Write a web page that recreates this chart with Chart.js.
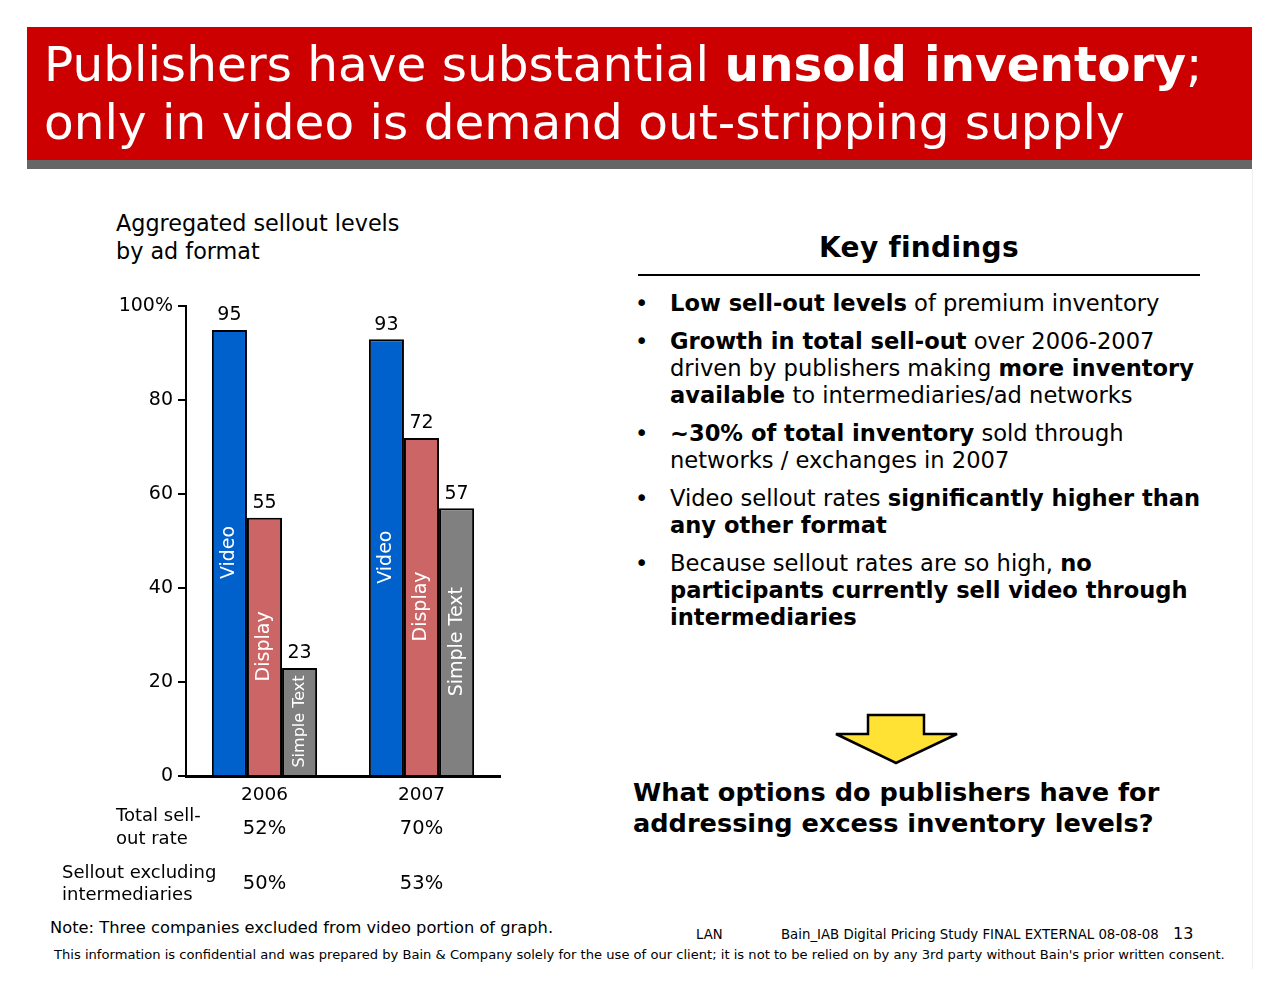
<!DOCTYPE html>
<html>
<head>
<meta charset="utf-8">
<script src="https://cdn.jsdelivr.net/npm/chart.js@4"></script>
<style>
  body { margin: 0; background: #fff; font-family: "DejaVu Sans", Verdana, sans-serif; }
  .page { position: relative; width: 1280px; height: 990px; overflow: hidden; }
  .titlebar { position: absolute; left: 27px; top: 27px; width: 1225px; height: 133px; background: #cc0000; }
  .titlebar .grey { position: absolute; left: 0; bottom: -9px; width: 100%; height: 9px; background: #666; }
  .title { position: absolute; left: 17px; top: 8px; color: #fff; font-size: 48.5px; line-height: 58px; white-space: nowrap; }
  .vline { position: absolute; left: 1252px; top: 169px; width: 1px; height: 800px; background: #eee; }
  .sub { position: absolute; left: 116px; top: 209px; font-size: 22.3px; line-height: 28px; }
  #wrap { position: absolute; left: 40px; top: 290px; width: 480px; height: 620px; }
  .kf { position: absolute; left: 638px; top: 231px; width: 562px; text-align: center; font-weight: bold; font-size: 28px; letter-spacing: 0.3px; }
  .kfline { position: absolute; left: 638px; top: 274px; width: 562px; height: 2px; background: #000; }
  ul { position: absolute; left: 632px; top: 290px; width: 600px; margin: 0; padding: 0; list-style: none; font-size: 22.6px; line-height: 27px; white-space: nowrap; }
  li { position: relative; padding-left: 38px; margin-bottom: 11px; }
  li:before { content: "\2022"; position: absolute; left: 3px; top: 0; }
  .q { position: absolute; left: 633px; top: 777px; font-weight: bold; font-size: 25.6px; line-height: 31px; white-space: nowrap; }
  .note { position: absolute; left: 50px; top: 918px; font-size: 16.3px; }
  .lan { position: absolute; left: 696px; top: 927px; font-size: 13.2px; }
  .doc { position: absolute; left: 781px; top: 927px; font-size: 13.3px; white-space: nowrap; }
  .pg { position: absolute; left: 1173px; top: 924px; font-size: 16px; }
  .conf { position: absolute; left: 54px; top: 947px; font-size: 13.1px; white-space: nowrap; }
  svg { position: absolute; left: 833px; top: 713px; }
</style>
</head>
<body>
<div class="page">
  <div class="titlebar"><div class="grey"></div>
    <div class="title">Publishers have substantial <b>unsold inventory</b>;<br>only in video is demand out-stripping supply</div>
  </div>
  <div class="vline"></div>
  <div class="sub">Aggregated sellout levels<br>by ad format</div>
  <div id="wrap"><canvas id="chart"></canvas></div>

  <div class="kf">Key findings</div>
  <div class="kfline"></div>
  <ul>
    <li><b>Low sell-out levels</b> of premium inventory</li>
    <li><b>Growth in total sell-out</b> over 2006-2007<br>driven by publishers making <b>more inventory</b><br><b>available</b> to intermediaries/ad networks</li>
    <li><b>~30% of total inventory</b> sold through<br>networks / exchanges in 2007</li>
    <li>Video sellout rates <b>significantly higher than</b><br><b>any other format</b></li>
    <li>Because sellout rates are so high, <b>no</b><br><b>participants currently sell video through</b><br><b>intermediaries</b></li>
  </ul>
  <svg width="128" height="54"><polygon points="35,2 91,2 91,21 124,21 63,50 3,21 35,21" fill="#ffe234" stroke="#000" stroke-width="2.5"/></svg>
  <div class="q">What options do publishers have for<br>addressing excess inventory levels?</div>

  <div class="note">Note: Three companies excluded from video portion of graph.</div>
  <div class="lan">LAN</div>
  <div class="doc">Bain_IAB Digital Pricing Study FINAL EXTERNAL 08-08-08</div>
  <div class="pg">13</div>
  <div class="conf">This information is confidential and was prepared by Bain &amp; Company solely for the use of our client; it is not to be relied on by any 3rd party without Bain's prior written consent.</div>
</div>

<script>
const years = ["2006", "2007"];
const video = [95, 93];
const display = [55, 72];
const simpleText = [23, 57];
const seriesNames = ["Video", "Display", "Simple Text"];
const totalSellout = ["52%", "70%"];
const selloutExclInter = ["50%", "53%"];
const FONT = '"DejaVu Sans", Verdana, sans-serif';

// labels on top of the bars, names written up inside them, and the little table below
const barText = {
  id: "barText",
  afterDatasetsDraw(chart) {
    const ctx = chart.ctx;
    ctx.save();
    chart.data.datasets.forEach((ds, di) => {
      chart.getDatasetMeta(di).data.forEach((bar, i) => {
        ctx.fillStyle = "#000";
        ctx.font = "19px " + FONT;
        ctx.textAlign = "center";
        ctx.textBaseline = "bottom";
        ctx.fillText(ds.data[i], bar.x, bar.y - 5);
        // name inside
        const mid = (bar.y + bar.base) / 2;
        const size = (bar.base - bar.y) < 110 ? 16 : 19;
        ctx.save();
        ctx.translate(bar.x, mid);
        ctx.rotate(-Math.PI / 2);
        ctx.fillStyle = "#fff";
        ctx.font = size + "px " + FONT;
        ctx.textBaseline = "middle";
        ctx.fillText(seriesNames[di], 0, 0);
        ctx.restore();
      });
    });
    const xs = chart.scales.x;
    const top = chart.chartArea.bottom;
    ctx.fillStyle = "#000";
    ctx.font = "18px " + FONT;
    ctx.textBaseline = "middle";
    ctx.textAlign = "left";
    ctx.fillText("Total sell-", 76, top + 40);
    ctx.fillText("out rate", 76, top + 63);
    ctx.fillText("Sellout excluding", 22, top + 97);
    ctx.fillText("intermediaries", 22, top + 119);
    ctx.textAlign = "center";
    ctx.font = "19.5px " + FONT;
    years.forEach((y, i) => {
      const cx = xs.getPixelForValue(i);
      ctx.fillText(totalSellout[i], cx, top + 53);
      ctx.fillText(selloutExclInter[i], cx, top + 108);
    });
    ctx.restore();
  }
};

new Chart(document.getElementById("chart"), {
  type: "bar",
  data: {
    labels: years,
    datasets: [
      { label: "Video", data: video, backgroundColor: "#0060cc" },
      { label: "Display", data: display, backgroundColor: "#cc6666" },
      { label: "Simple Text", data: simpleText, backgroundColor: "#808080" }
    ]
  },
  options: {
    responsive: true,
    maintainAspectRatio: false,
    animation: false,
    layout: { padding: { top: 14, right: 20, left: 0, bottom: 0 } },
    datasets: {
      bar: { borderColor: "#000", borderWidth: 2, categoryPercentage: 0.67, barPercentage: 1.0 }
    },
    plugins: { legend: { display: false }, tooltip: { enabled: false } },
    scales: {
      x: {
        afterFit: (s) => { s.height = 134; },
        grid: { display: false, drawTicks: false },
        border: { color: "#000", width: 3 },
        ticks: { color: "#000", font: { family: FONT, size: 18.5 }, padding: 8, maxRotation: 0 }
      },
      y: {
        min: 0, max: 100,
        afterFit: (s) => { s.width = 146; },
        grid: { drawOnChartArea: false, color: "#000", lineWidth: 2, tickLength: 8 },
        border: { color: "#000", width: 2 },
        ticks: {
          stepSize: 20, color: "#000", padding: 5,
          font: { family: FONT, size: 19 },
          callback: (v) => v === 100 ? "100%" : v
        }
      }
    }
  },
  plugins: [barText]
});
</script>
</body>
</html>
